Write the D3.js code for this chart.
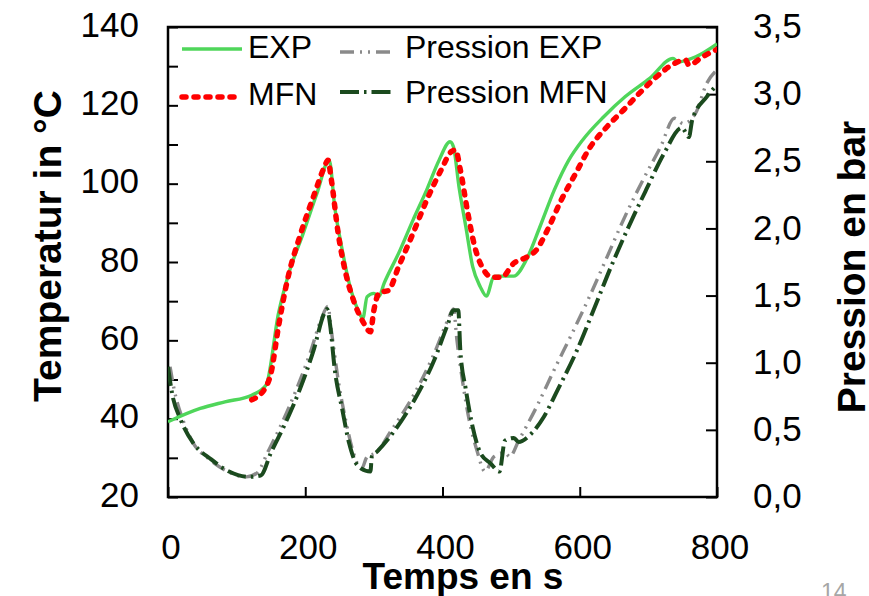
<!DOCTYPE html>
<html>
<head>
<meta charset="utf-8">
<script src="https://cdn.jsdelivr.net/npm/d3@7"></script>
<style>
  body { margin: 0; background: #fff; }
  svg { font-family: 'Liberation Sans', Arial, sans-serif; }
</style>
</head>
<body>
<div></div>
<script>
// temps (s) , valeur
var expTemp = [[0,39.2],[47,42.6],[83,44.3],[122,46],[143,48.6],[161,66.9],[176,77.1],[197,87.3],[217,97.5],[235,106],
  [243,94],[253,83.9],[264,74.6],[277,67.7],[284,65.6],[290,71.1],[300,72],[307,71.1],[315,74.6],[336,82.2],[357,90.7],
  [377,98.4],[395,106],[411,110.7],[416,109.4],[424,99.2],[434,89],[444,78.8],[455,73.7],[464,71.3],[475,76.3],[486,76.4],
  [504,76.4],[522,80.5],[542,89],[563,98.4],[584,106],[604,111.1],[635,117.1],[666,122.2],[702,126.9],[736,132],
  [743,131.1],[769,132.4],[800,135.7]];

var mfnTemp = [[122,44.8],[143,48.2],[150,51.6],[161,63.5],[174,75.4],[192,86.5],[212,96.7],[228,104.3],[233,106],
  [238,101],[248,87.3],[259,77.1],[272,69.4],[284,64.8],[295,62.2],[300,67.7],[308,72.2],[321,72.7],[336,78.8],
  [357,87.3],[377,95.8],[398,103.5],[413,108.2],[419,108.6],[426,103.5],[437,92.4],[447,83.9],[460,78],[473,76.1],
  [486,76.1],[504,79.7],[522,81.2],[537,83.1],[553,88.2],[573,95.8],[594,102.6],[614,109],[640,114.6],[666,119.2],
  [687,123.1],[712,127.3],[738,130.7],[754,131.6],[759,130.3],[779,132.4],[800,134.3]];

var expPress = [[3,0.97],[9,0.80],[22,0.57],[37,0.40],[58,0.29],[83,0.20],[114,0.15],[130,0.18],[145,0.33],[166,0.55],
  [187,0.80],[207,1.07],[223,1.32],[233,1.42],[238,1.24],[248,0.87],[259,0.57],[269,0.35],[282,0.21],[290,0.30],
  [303,0.33],[326,0.50],[357,0.75],[388,1.07],[408,1.32],[416,1.40],[421,1.17],[429,0.87],[439,0.57],[450,0.35],
  [462,0.19],[475,0.30],[491,0.33],[498,0.30],[511,0.42],[537,0.67],[563,0.95],[589,1.22],[614,1.49],[640,1.79],
  [666,2.09],[692,2.36],[718,2.61],[738,2.82],[751,2.78],[769,2.86],[785,3.08],[800,3.18]];

var mfnPress = [[0,0.97],[6,0.77],[19,0.57],[37,0.40],[63,0.28],[89,0.19],[117,0.15],[135,0.16],[150,0.33],[171,0.55],
  [192,0.80],[212,1.09],[228,1.37],[232,1.40],[236,1.29],[243,0.95],[254,0.65],[264,0.40],[277,0.23],[295,0.19],
  [297,0.30],[305,0.34],[331,0.50],[362,0.75],[388,1.02],[408,1.29],[416,1.39],[423,1.39],[426,1.09],[434,0.80],
  [444,0.52],[455,0.33],[470,0.25],[483,0.19],[491,0.42],[504,0.44],[511,0.41],[527,0.46],[548,0.60],[568,0.80],
  [594,1.07],[620,1.39],[646,1.72],[671,2.01],[697,2.29],[723,2.56],[749,2.75],[759,2.68],[764,2.81],[785,2.98],
  [800,3.07]];

var xTicks = [0, 200, 400, 600, 800];
var yLeftTicks = [20, 40, 60, 80, 100, 120, 140];
var yRightTicks = [0, 0.5, 1, 1.5, 2, 2.5, 3, 3.5];
var legendNames = ['EXP', 'MFN', 'Pression EXP', 'Pression MFN'];

var width = 869;
var height = 596;
var pLeft = 168, pRight = 717, pTop = 27, pBottom = 497;

var svg = d3.select('div')
    .append('svg')
    .attr('width', width)
    .attr('height', height);

var x = d3.scaleLinear().domain([0, 800]).range([pLeft, pRight]);
var yT = d3.scaleLinear().domain([20, 140]).range([pBottom, pTop]);
var yP = d3.scaleLinear().domain([0, 3.5]).range([pBottom, pTop]);

svg.append('clipPath').attr('id', 'clip')
    .append('rect')
    .attr('x', pLeft).attr('y', pTop)
    .attr('width', pRight - pLeft).attr('height', pBottom - pTop);

// axes avec graduations vers l'interieur
var axisL = svg.append('g')
    .attr('transform', 'translate(' + pLeft + ',0)')
    .call(d3.axisLeft(yT).tickValues(d3.range(20, 141, 10)).tickSize(-10).tickFormat(''));
var axisR = svg.append('g')
    .attr('transform', 'translate(' + pRight + ',0)')
    .call(d3.axisRight(yP).tickValues(yRightTicks).tickSize(-11).tickFormat(''));
var axisB = svg.append('g')
    .attr('transform', 'translate(0,' + pBottom + ')')
    .call(d3.axisBottom(x).tickValues(xTicks).tickSize(-10).tickFormat(''));
[axisL, axisR, axisB].forEach(function(a) {
    a.select('.domain').remove();
    a.selectAll('line').attr('stroke', '#000').attr('stroke-width', 2);
});

svg.append('rect')
    .attr('x', pLeft).attr('y', pTop)
    .attr('width', pRight - pLeft).attr('height', pBottom - pTop)
    .attr('fill', 'none')
    .attr('stroke', '#000')
    .attr('stroke-width', 2.5);

// etiquettes
svg.append('g').selectAll('text')
    .data(yLeftTicks).enter().append('text')
    .attr('x', 139).attr('y', (d) => yT(d) - 3)
    .attr('dy', '0.36em')
    .attr('text-anchor', 'end')
    .attr('font-size', 35)
    .text((d) => d);

svg.append('g').selectAll('text')
    .data(yRightTicks).enter().append('text')
    .attr('x', 753).attr('y', (d) => yP(d) - 1.5)
    .attr('dy', '0.36em')
    .attr('font-size', 35)
    .text((d) => d3.format('.1f')(d).replace('.', ','));

svg.append('g').selectAll('text')
    .data(xTicks).enter().append('text')
    .attr('x', (d) => x(d) + 3).attr('y', 559)
    .attr('text-anchor', 'middle')
    .attr('font-size', 35)
    .text((d) => d);

svg.append('text')
    .attr('x', 463).attr('y', 589)
    .attr('text-anchor', 'middle')
    .attr('font-size', 37)
    .attr('font-weight', 'bold')
    .text('Temps en s');

svg.append('text')
    .attr('transform', 'translate(61,246) rotate(-90)')
    .attr('text-anchor', 'middle')
    .attr('font-size', 39)
    .attr('font-weight', 'bold')
    .text('Temperatur in °C');

svg.append('text')
    .attr('transform', 'translate(865,267) rotate(-90)')
    .attr('text-anchor', 'middle')
    .attr('font-size', 39)
    .attr('font-weight', 'bold')
    .text('Pression en bar');

svg.append('text')
    .attr('x', 821).attr('y', 600)
    .attr('font-size', 23)
    .attr('fill', '#a6a6a6')
    .text('14');

// courbes
var styles = [
    {data: expTemp, y: yT, color: '#4fd65a', w: 3.4, dash: null, cap: 'butt'},
    {data: mfnTemp, y: yT, color: '#ff0000', w: 5.5, dash: '4,8', cap: 'round'},
    {data: expPress, y: yP, color: '#8a8a8a', w: 3.4, dash: '14,6,2,6,2,6', cap: 'butt'},
    {data: mfnPress, y: yP, color: '#1b4a1e', w: 4, dash: '19,5,2.5,5', cap: 'butt'}
];

var plot = svg.append('g').attr('clip-path', 'url(#clip)');
plot.selectAll('path')
    .data([styles[2], styles[3], styles[0], styles[1]])
    .enter()
    .append('path')
    .attr('d', (s) => d3.line()
        .x((d) => x(d[0]))
        .y((d) => s.y(d[1]))
        .curve(d3.curveMonotoneX)(s.data))
    .attr('fill', 'none')
    .attr('stroke', (s) => s.color)
    .attr('stroke-width', (s) => s.w)
    .attr('stroke-dasharray', (s) => s.dash)
    .attr('stroke-linecap', (s) => s.cap)
    .attr('stroke-linejoin', 'round');

// legende
var legPos = [[182, 49, 60, 250, 58], [182, 97, 60, 250, 105], [340, 52, 52, 407, 58], [340, 92, 52, 407, 103]];
var legend = svg.append('g').selectAll('g')
    .data(legendNames).enter().append('g');
legend.append('line')
    .attr('x1', (d, i) => legPos[i][0])
    .attr('x2', (d, i) => legPos[i][0] + legPos[i][2])
    .attr('y1', (d, i) => legPos[i][1])
    .attr('y2', (d, i) => legPos[i][1])
    .attr('stroke', (d, i) => styles[i].color)
    .attr('stroke-width', (d, i) => styles[i].w)
    .attr('stroke-dasharray', (d, i) => styles[i].dash)
    .attr('stroke-linecap', (d, i) => styles[i].cap);
legend.append('text')
    .attr('x', (d, i) => legPos[i][3] - 2)
    .attr('y', (d, i) => legPos[i][4])
    .attr('font-size', 32)
    .text((d) => d);
</script>
</body>
</html>
